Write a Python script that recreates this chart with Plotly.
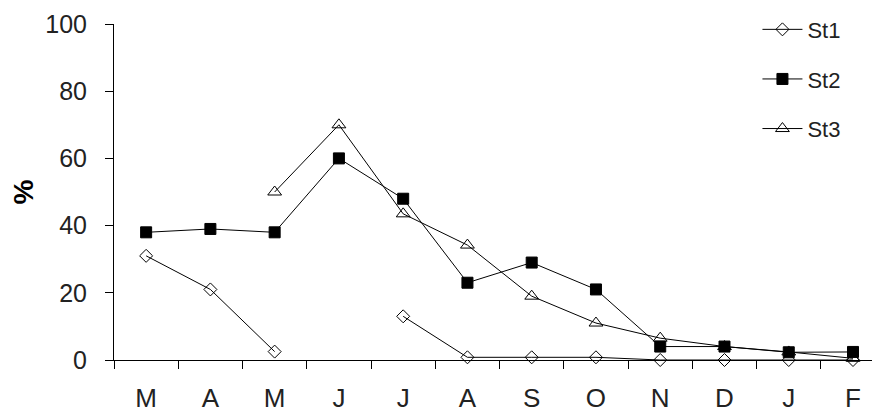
import plotly.graph_objects as go

months = ["M", "A", "M", "J", "J", "A", "S", "O", "N", "D", "J", "F"]
st1 = [31, 21, 2.5, None, 13, 0.8, 0.8, 0.8, 0, 0, 0, 0]
st2 = [38, 39, 38, 60, 48, 23, 29, 21, 4, 4, 2.3, 2.4]
st3 = [None, None, 50, 70, 43.5, 34.2, 19, 11, 6.5, 4, 2.4, 0.5]
yticks = [0, 20, 40, 60, 80, 100]

x = list(range(len(months)))

fig = go.Figure()
series = [
    ("St1", st1, dict(symbol="diamond-open", size=10, color="black", line=dict(width=1, color="black"))),
    ("St2", st2, dict(symbol="square", size=11, color="black", line=dict(width=1, color="black"))),
    ("St3", st3, dict(symbol="triangle-up-open", size=12, color="black", line=dict(width=1, color="black"))),
]
for i, (name, vals, mk) in enumerate(series):
    fig.add_trace(go.Scatter(
        x=x, y=vals, name=name, mode="lines+markers",
        line=dict(color="black", width=1), marker=mk,
        connectgaps=False, cliponaxis=False, legendgroup=name,
    ))

fig.update_layout(
    width=872, height=406,
    margin=dict(l=106, r=0, t=16, b=54, autoexpand=False),
    paper_bgcolor="white", plot_bgcolor="white",
    font=dict(family="Liberation Sans, Arial, sans-serif", color="#222", size=20),
    showlegend=True,
    legend=dict(x=0.84, y=1.046, xanchor="left", yanchor="top",
                font=dict(size=22, color="#222"), tracegroupgap=18,
                traceorder="grouped", bgcolor="rgba(0,0,0,0)", itemwidth=40),
)
fig.update_xaxes(
    range=[-0.5, 11.42], tickvals=x, ticktext=months, ticks="", ticklen=0,
    ticklabelstandoff=15,
    showline=True, linecolor="black", linewidth=1, showgrid=False, zeroline=False,
    tickfont=dict(size=26, color="#222"),
    minor=dict(tickvals=[i + 0.5 for i in range(-1, 11)], ticks="outside", ticklen=8,
               tickcolor="black", tickwidth=1, showgrid=False),
)
fig.update_yaxes(
    range=[0, 100], tickvals=yticks, ticks="outside", ticklen=8, tickcolor="black",
    ticklabelstandoff=13,
    showline=True, linecolor="black", linewidth=1, showgrid=False, zeroline=False,
    tickfont=dict(size=25, color="#222"),
    title=dict(text="<b>%</b>", font=dict(size=28, color="black"), standoff=32),
)

fig.write_html("out.html")
